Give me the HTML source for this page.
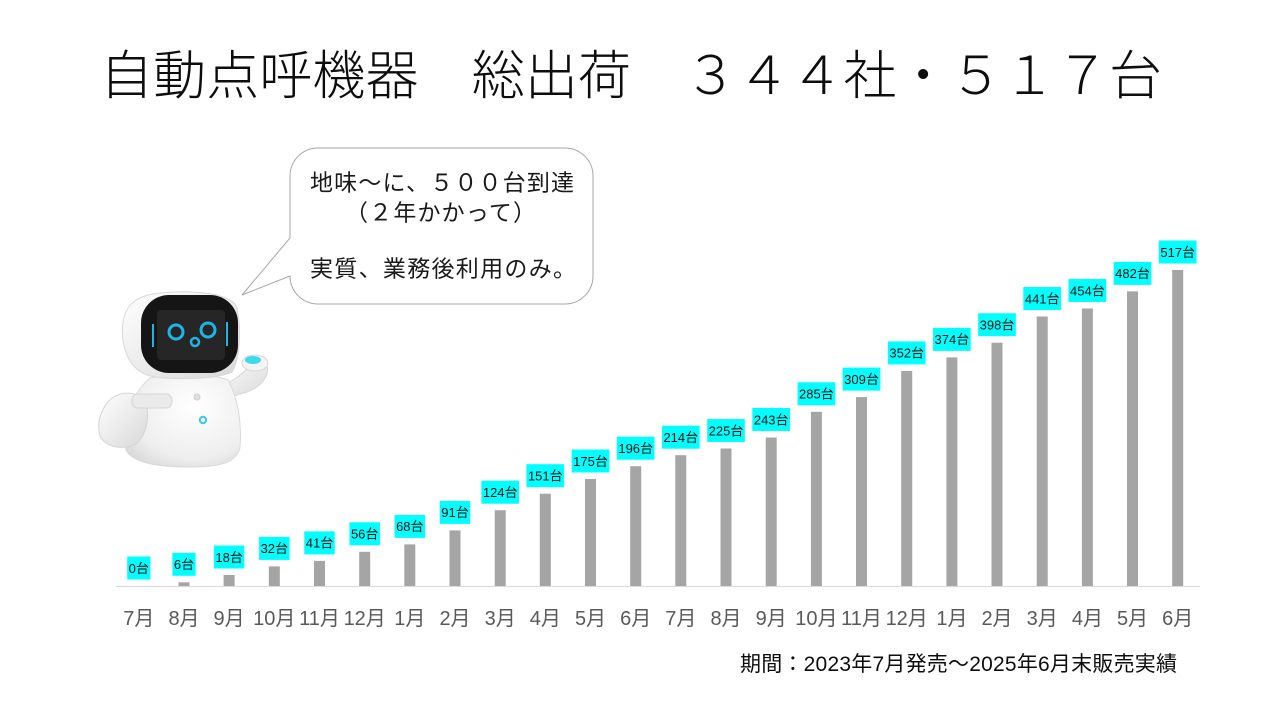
<!DOCTYPE html>
<html><head><meta charset="utf-8">
<style>
html,body{margin:0;padding:0;background:#fff;}
svg{display:block;}
text{font-family:"Liberation Sans","Noto Sans CJK JP",sans-serif;}
</style></head>
<body>
<svg width="1280" height="720" viewBox="0 0 1280 720" xmlns="http://www.w3.org/2000/svg">
<rect width="1280" height="720" fill="#fff"/>
<!-- Title -->
<text x="100" y="94" font-size="53" font-weight="300" fill="#0d0d0d" textLength="1062" lengthAdjust="spacing">自動点呼機器　総出荷　３４４社・５１７台</text>

<!-- Speech bubble -->
<path d="M318,148 H565 A28,28 0 0 1 593,176 V276 A28,28 0 0 1 565,304 H318 A28,28 0 0 1 290,276 L242,295 L290,238 V176 A28,28 0 0 1 318,148 Z" fill="#fff" stroke="#a6a6a6" stroke-width="1"/>
<text x="310" y="190.5" font-size="23" fill="#1a1a1a" textLength="264" lengthAdjust="spacing">地味〜に、５００台到達</text>
<text x="345" y="220.5" font-size="23" fill="#1a1a1a" textLength="191" lengthAdjust="spacing">（２年かかって）</text>
<text x="310" y="276.5" font-size="23" fill="#1a1a1a" textLength="266" lengthAdjust="spacing">実質、業務後利用のみ。</text>

<!-- Robot -->
<defs>
<linearGradient id="wg" x1="0" y1="0" x2="1" y2="1">
<stop offset="0" stop-color="#ffffff"/><stop offset="1" stop-color="#d8d8d8"/>
</linearGradient>
<radialGradient id="bg" cx="0.6" cy="0.35" r="0.8">
<stop offset="0" stop-color="#ffffff"/><stop offset="0.7" stop-color="#eeeeee"/><stop offset="1" stop-color="#d4d4d4"/>
</radialGradient>
</defs>
<!-- right arm -->
<path d="M212,392 C225,385 238,378 246,370 L258,362 C266,360 270,368 266,376 C262,386 250,392 240,394 C228,398 218,400 212,398 Z" fill="url(#wg)" stroke="#d6d6d6" stroke-width="1"/>
<ellipse cx="255" cy="363" rx="13" ry="8" fill="#f4f4f4" stroke="#d8d8d8"/>
<ellipse cx="253" cy="360" rx="8" ry="4" fill="#3fd8ee"/>
<!-- body -->
<path d="M150,378 C175,372 205,372 228,380 C238,398 242,425 240,448 C236,462 222,467 190,467 C155,467 132,462 126,450 C120,428 130,395 150,378 Z" fill="url(#bg)" stroke="#dadada" stroke-width="1"/>
<!-- left arm -->
<path d="M112,398 C124,390 142,392 146,404 C150,418 146,436 136,444 C124,450 106,448 100,436 C96,422 102,406 112,398 Z" fill="url(#wg)" stroke="#d4d4d4" stroke-width="1"/>
<rect x="132" y="394" width="40" height="14" rx="6" fill="#eaeaea" stroke="#d6d6d6"/>
<circle cx="197" cy="397" r="3" fill="#e0e0e0" stroke="#cfcfcf"/>
<circle cx="203" cy="420" r="3.2" fill="none" stroke="#3fc8e8" stroke-width="2"/>
<!-- head -->
<path d="M160,293 C190,290 225,292 236,305 C242,325 240,360 232,372 C215,380 170,380 150,376 C128,370 120,345 123,322 C126,302 140,295 160,293 Z" fill="url(#wg)" stroke="#d8d8d8" stroke-width="1"/>
<rect x="141" y="295" width="97" height="78" rx="28" fill="#151515"/>
<rect x="157" y="310" width="68" height="50" rx="4" fill="#262626"/>
<circle cx="176" cy="332" r="7" fill="none" stroke="#1fb4e6" stroke-width="3"/>
<circle cx="208" cy="330" r="7" fill="none" stroke="#1fb4e6" stroke-width="3"/>
<circle cx="195" cy="342" r="4" fill="none" stroke="#1fb4e6" stroke-width="2.5"/>
<line x1="153" y1="324" x2="153" y2="347" stroke="#1fb4e6" stroke-width="2"/>
<line x1="227" y1="322" x2="227" y2="346" stroke="#1fb4e6" stroke-width="2"/>

<!-- Axis line -->
<line x1="116" y1="586.5" x2="1200" y2="586.5" stroke="#d9d9d9" stroke-width="1"/>

<!-- Bars -->
<g fill="#a5a5a5">
<rect x="178.5" y="582.3" width="11" height="3.7"/>
<rect x="223.6" y="575.0" width="11" height="11"/>
<rect x="268.8" y="566.4" width="11" height="19.6"/>
<rect x="314.0" y="560.9" width="11" height="25.1"/>
<rect x="359.2" y="551.8" width="11" height="34.2"/>
<rect x="404.3" y="544.4" width="11" height="41.6"/>
<rect x="449.5" y="530.4" width="11" height="55.6"/>
<rect x="494.7" y="510.2" width="11" height="75.8"/>
<rect x="539.8" y="493.7" width="11" height="92.3"/>
<rect x="585.0" y="479.0" width="11" height="107"/>
<rect x="630.2" y="466.2" width="11" height="119.8"/>
<rect x="675.3" y="455.2" width="11" height="130.8"/>
<rect x="720.5" y="448.5" width="11" height="137.5"/>
<rect x="765.7" y="437.5" width="11" height="148.5"/>
<rect x="810.9" y="411.8" width="11" height="174.2"/>
<rect x="856.0" y="397.1" width="11" height="188.9"/>
<rect x="901.2" y="370.9" width="11" height="215.1"/>
<rect x="946.4" y="357.4" width="11" height="228.6"/>
<rect x="991.5" y="342.7" width="11" height="243.3"/>
<rect x="1036.7" y="316.5" width="11" height="269.5"/>
<rect x="1081.9" y="308.5" width="11" height="277.5"/>
<rect x="1127.0" y="291.4" width="11" height="294.6"/>
<rect x="1172.2" y="270.0" width="11" height="316"/>
</g>

<!-- Label boxes -->
<g fill="#00ffff">
<rect x="127.2" y="556.5" width="23.2" height="23"/>
<rect x="172.4" y="552.8" width="23.2" height="23"/>
<rect x="213.85" y="545.5" width="30.5" height="23"/>
<rect x="259.05" y="536.9" width="30.5" height="23"/>
<rect x="304.25" y="531.4" width="30.5" height="23"/>
<rect x="349.45" y="522.3" width="30.5" height="23"/>
<rect x="394.55" y="514.9" width="30.5" height="23"/>
<rect x="439.75" y="500.9" width="30.5" height="23"/>
<rect x="481.35" y="480.7" width="37.7" height="23"/>
<rect x="526.45" y="464.2" width="37.7" height="23"/>
<rect x="571.65" y="449.5" width="37.7" height="23"/>
<rect x="616.85" y="436.7" width="37.7" height="23"/>
<rect x="661.95" y="425.7" width="37.7" height="23"/>
<rect x="707.15" y="419.0" width="37.7" height="23"/>
<rect x="752.35" y="408.0" width="37.7" height="23"/>
<rect x="797.55" y="382.3" width="37.7" height="23"/>
<rect x="842.65" y="367.6" width="37.7" height="23"/>
<rect x="887.85" y="341.4" width="37.7" height="23"/>
<rect x="933.05" y="327.9" width="37.7" height="23"/>
<rect x="978.15" y="313.2" width="37.7" height="23"/>
<rect x="1023.35" y="287.0" width="37.7" height="23"/>
<rect x="1068.55" y="279.0" width="37.7" height="23"/>
<rect x="1113.65" y="261.9" width="37.7" height="23"/>
<rect x="1158.85" y="240.5" width="37.7" height="23"/>
</g>

<!-- Label text -->
<g font-size="13" fill="#111" text-anchor="middle">
<text x="138.8" y="572.8">0台</text>
<text x="184.0" y="569.1">6台</text>
<text x="229.1" y="561.8">18台</text>
<text x="274.3" y="553.2">32台</text>
<text x="319.5" y="547.7">41台</text>
<text x="364.7" y="538.6">56台</text>
<text x="409.8" y="531.2">68台</text>
<text x="455.0" y="517.2">91台</text>
<text x="500.2" y="497.0">124台</text>
<text x="545.3" y="480.5">151台</text>
<text x="590.5" y="465.8">175台</text>
<text x="635.7" y="453.0">196台</text>
<text x="680.8" y="442.0">214台</text>
<text x="726.0" y="435.3">225台</text>
<text x="771.2" y="424.3">243台</text>
<text x="816.4" y="398.6">285台</text>
<text x="861.5" y="383.9">309台</text>
<text x="906.7" y="357.7">352台</text>
<text x="951.9" y="344.2">374台</text>
<text x="997.0" y="329.5">398台</text>
<text x="1042.2" y="303.3">441台</text>
<text x="1087.4" y="295.3">454台</text>
<text x="1132.5" y="278.2">482台</text>
<text x="1177.7" y="256.8">517台</text>
</g>

<!-- X axis labels -->
<g font-size="20" fill="#595959" text-anchor="middle">
<text x="138.8" y="625">7月</text>
<text x="184.0" y="625">8月</text>
<text x="229.1" y="625">9月</text>
<text x="274.3" y="625">10月</text>
<text x="319.5" y="625">11月</text>
<text x="364.7" y="625">12月</text>
<text x="409.8" y="625">1月</text>
<text x="455.0" y="625">2月</text>
<text x="500.2" y="625">3月</text>
<text x="545.3" y="625">4月</text>
<text x="590.5" y="625">5月</text>
<text x="635.7" y="625">6月</text>
<text x="680.8" y="625">7月</text>
<text x="726.0" y="625">8月</text>
<text x="771.2" y="625">9月</text>
<text x="816.4" y="625">10月</text>
<text x="861.5" y="625">11月</text>
<text x="906.7" y="625">12月</text>
<text x="951.9" y="625">1月</text>
<text x="997.0" y="625">2月</text>
<text x="1042.2" y="625">3月</text>
<text x="1087.4" y="625">4月</text>
<text x="1132.5" y="625">5月</text>
<text x="1177.7" y="625">6月</text>
</g>

<!-- Footer -->
<text x="740" y="671" font-size="21" fill="#0d0d0d" textLength="437" lengthAdjust="spacing">期間：2023年7月発売〜2025年6月末販売実績</text>
</svg>
</body></html>
